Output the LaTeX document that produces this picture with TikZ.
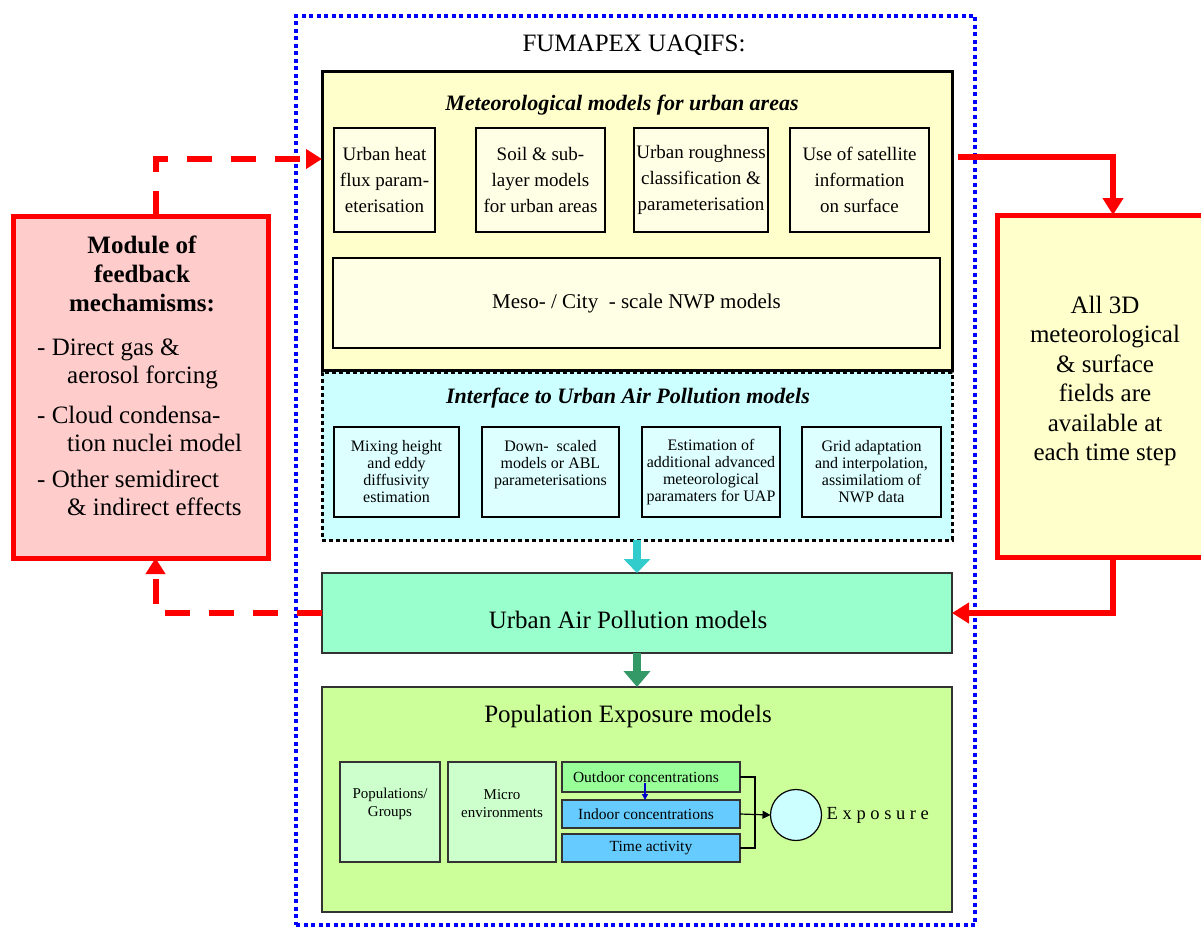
\documentclass[tikz,border=0pt]{standalone}
\usepackage{fontspec}
\setmainfont{Liberation Serif}
\usetikzlibrary{arrows.meta,calc}
\newcommand\fsz[2]{\fontsize{#1pt}{#2pt}\selectfont}
\definecolor{metfill}{HTML}{FFFFCC}
\definecolor{metin}{HTML}{FFFFE6}
\definecolor{iffill}{HTML}{CCFFFF}
\definecolor{ifin}{HTML}{DDFFFF}
\definecolor{uapfill}{HTML}{99FFCC}
\definecolor{popfill}{HTML}{CCFF99}
\definecolor{pgfill}{HTML}{CCFFCC}
\definecolor{outfill}{HTML}{99FF99}
\definecolor{infill}{HTML}{66CCFF}
\definecolor{circfill}{HTML}{CCFFFF}
\definecolor{fbfill}{HTML}{FFCCCC}
\definecolor{avfill}{HTML}{FFFFCC}
\definecolor{cyarrow}{HTML}{33CCCC}
\definecolor{grarrow}{HTML}{339966}
\definecolor{frameblue}{HTML}{0000FF}
\definecolor{fbred}{HTML}{FF0000}
\begin{document}
\begin{tikzpicture}[x=1pt,y=-1pt,
  bx/.style={draw, inner sep=0pt, outer sep=0pt},
  sz/.style 2 args={minimum width=#1pt, minimum height=#2pt},
  metsub/.style={bx, fill=metin, line width=2pt, align=center, font=\fsz{19}{26}},
  ifsub/.style={bx, fill=ifin, line width=1.5pt, align=center, font=\fsz{16}{17}},
  pg/.style={bx, fill=pgfill, draw=black!80, line width=1.2pt},
  conc/.style={bx, draw=black!80, line width=1.2pt, font=\fsz{15.5}{18}},
  redarr/.style={draw=fbred, line width=6pt, -{Triangle[width=20pt,length=17pt]}},
  fbdash/.style={draw=fbred, line width=6pt, dash pattern=on 25pt off 19pt, -{Triangle[width=19pt,length=16pt]}},
  plain/.style={inner sep=0pt, align=center}
]
\useasboundingbox (0,0) rectangle (1201,928);
\clip (0,0) rectangle (1201,928);

% outer frame
\node[bx, draw=frameblue, line width=4pt, dash pattern=on 4pt off 3.5pt, sz={679}{909}] (frame) at (635.5,470.5) {};
\node[plain, font=\fsz{25}{29}] (ttl) at (634,45) {FUMAPEX UAQIFS:};

% interface and meteorological boxes
\node[bx, fill=iffill, line width=3pt, dash pattern=on 4pt off 3pt, sz={630}{168}] (iface) at (637,456) {};
\node[bx, fill=metfill, line width=3pt, sz={630}{298}] (met) at (637,221) {};
\node[plain, font=\fsz{22}{26}\bfseries\itshape] (mettl) at (622,105) {Meteorological models for urban areas};
\node[metsub, sz={101}{104}] (b1) at (384.5,180) {Urban heat\\flux param-\\eterisation};
\node[metsub, sz={129}{104}] (b2) at (540.5,180) {Soil \& sub-\\layer models\\for urban areas};
\node[metsub, sz={134}{104}] (b3) at (701,180) {Urban roughness\\classification \&\\parameterisation};
\node[metsub, sz={139}{104}] (b4) at (859.5,180) {Use of satellite\\information\\on surface};
\node[metsub, sz={607}{90}, font=\fsz{21}{25}] (meso) at (636.5,303) {Meso- / City \ - scale NWP models};

\node[plain, font=\fsz{22}{26}\bfseries\itshape] (iftl) at (628,398) {Interface to Urban Air Pollution models};
\node[ifsub, sz={125}{90}] (i1) at (396.5,472) {Mixing height\\and eddy\\diffusivity\\estimation};
\node[ifsub, sz={137}{90}] (i2) at (550.5,472) {};
\node[plain, font=\fsz{16}{17}] (i2t) at (550.5,465) {Down- \ scaled\\models or ABL\\parameterisations};
\node[ifsub, sz={138}{90}] (i3) at (711,472) {Estimation of\\additional advanced\\meteorological\\paramaters for UAP};
\node[ifsub, sz={139}{90}] (i4) at (871.5,472) {Grid adaptation\\and interpolation,\\assimilatiom of\\NWP data};

% urban air pollution
\node[bx, fill=uapfill, draw=black!80, line width=1.5pt, sz={630}{80}] (uap) at (637,613) {};
\node[plain, font=\fsz{25}{29}] (uapt) at (628,620) {Urban Air Pollution models};

% population exposure
\node[bx, fill=popfill, draw=black!80, line width=1.5pt, sz={630}{225}] (pop) at (637,799.5) {};
\node[plain, font=\fsz{25}{29}] (popt) at (628,716) {Population Exposure models};
\node[pg, sz={100}{100}] (popg) at (390,812) {};
\node[plain, font=\fsz{15}{18}] (popgt) at (390,804) {Populations/\\Groups};
\node[pg, sz={108}{100}] (micro) at (502,812) {};
\node[plain, font=\fsz{15}{18}] (microt) at (502,804) {Micro\\environments};
\node[conc, fill=outfill, sz={178}{30}] (outd) at (651,777) {Outdoor concentrations\hspace*{10pt}};
\node[conc, fill=infill, sz={178}{28}] (ind) at (651,814) {Indoor concentrations\hspace*{10pt}};
\node[conc, fill=infill, sz={178}{28}] (timeb) at (651,848) {Time activity};
\node[draw=black, line width=1.2pt, fill=circfill, circle, minimum size=51pt, inner sep=0pt, outer sep=0pt] (circ) at (796,815) {};
\node[anchor=west, inner sep=0pt, font=\fsz{18.5}{22}] (expo) at ([xshift=5pt]circ.east) {E x p o s u r e};

\draw[draw=blue!80!black, line width=1.3pt, -{Triangle[width=6pt,length=6pt]}] ([shift={(-6,-9)}]outd.south) -- ([xshift=-6pt]ind.north);
\draw[line width=1.2pt] (outd.east) -- ++(15,0) |- (timeb.east);
\draw[line width=1.2pt, -{Triangle[width=8pt,length=8pt]}] (ind.east) -- (circ.west);

% block arrows
\draw[line width=8pt, cyarrow, -{Triangle[width=26pt,length=14pt]}] (iface.south) -- (uap.north);
\draw[line width=8pt, grarrow, -{Triangle[width=26pt,length=16pt]}] (uap.south) -- (pop.north);

% left feedback module
\node[bx, draw=fbred, fill=fbfill, line width=5pt, sz={255}{342}] (lbox) at (140.5,387) {};
\node[plain, font=\fsz{25}{29}\bfseries] (lttl) at (142,274) {Module of\\feedback\\mechamisms:};
\node[anchor=west, inner sep=0pt, align=left, font=\fsz{25}{28}] (it1) at (37,364) {- Direct gas \&\\\hspace*{30pt}aerosol forcing};
\node[anchor=west, inner sep=0pt, align=left, font=\fsz{25}{28}] (it2) at (37,429) {- Cloud condensa-\\\hspace*{30pt}tion nuclei model};
\node[anchor=west, inner sep=0pt, align=left, font=\fsz{25}{28}] (it3) at (37,493) {- Other semidirect\\\hspace*{30pt}\& indirect effects};

% right fields box
\node[bx, draw=fbred, fill=avfill, line width=5pt, sz={232}{342}] (rbox) at (1113,386) {};
\node[plain, font=\fsz{25}{29.4}] (rtxt) at (1105,381) {All 3D\\meteorological\\\& surface\\fields are\\available at\\each time step};

% red connectors
\draw[redarr] ([shift={(6,85)}]met.north east) -| (rbox.north);
\draw[redarr] (rbox.south) |- (uap.east);
\draw[fbdash] ([xshift=15pt]lbox.north) |- ([yshift=62pt]met.west);
\draw[fbdash] (uap.west) -| ([xshift=15pt]lbox.south);
\end{tikzpicture}
\end{document}
